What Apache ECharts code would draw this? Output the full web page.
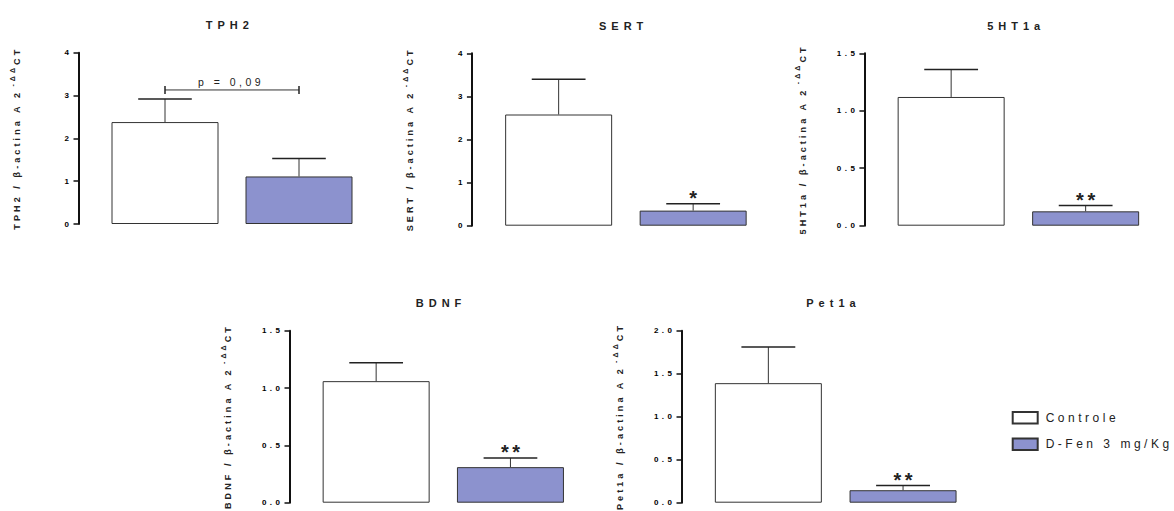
<!DOCTYPE html>
<html>
<head>
<meta charset="utf-8">
<script src="https://cdn.jsdelivr.net/npm/echarts@6/dist/echarts.min.js"></script>
<style>
html, body { margin: 0; padding: 0; background: #fff; }
#chart { width: 1174px; height: 511px; }
/* GraphPad style wide letter spacing */
#chart text { letter-spacing: 3.5px; }
#chart text[style*="11px"] { letter-spacing: 5px; }
#chart text[style*="font-size: 9px"], #chart text[style*="font-size: 7px"] { letter-spacing: 3.1px; }
</style>
</head>
<body>
<div id="chart"></div>
<script>
var genes = ['TPH2', 'SERT', '5HT1a', 'BDNF', 'Pet1a'];
var groups = ['Controle', 'D-Fen 3 mg/Kg'];
var controleMean = [2.38, 2.58, 1.12, 1.06, 1.39];
var controleSem = [0.54, 0.82, 0.24, 0.16, 0.42];
var dfenMean = [1.11, 0.35, 0.125, 0.31, 0.145];
var dfenSem = [0.42, 0.16, 0.05, 0.08, 0.055];
var stars = ['', '*', '**', '**', '**'];
var yMax = [4, 4, 1.5, 1.5, 2];
var yStep = [1, 1, 0.5, 0.5, 0.5];
// TPH2 bracket
var pText = 'p = 0,09';
var pLevel = 3.13;

var SP = 3.1; // same as the css letter-spacing of the axis names
var SUP = '-ΔΔ', CT = 'CT';

// plot boxes, the y axis sits 19.5px left of each
var boxes = [
  {left: 98, top: 52.7, width: 268, height: 171.3},
  {left: 491.4, top: 53.3, width: 269, height: 172.4},
  {left: 883.9, top: 53.3, width: 269, height: 172.4},
  {left: 309, top: 330.7, width: 268.6, height: 172},
  {left: 701, top: 330.7, width: 269.4, height: 172}
];

var chart = echarts.init(document.getElementById('chart'), null, {renderer: 'svg'});

// rich tokens are drawn centred, so the letter spacing is split over both sides
function pad(str, after, bottom) {
  var e = str.length * SP / 2;
  return [0, e + (after || 0), bottom || 0, e];
}

var grids = [], xAxes = [], yAxes = [], titles = [], series = [];

genes.forEach(function (g, i) {
  var b = boxes[i];
  var part1 = g + ' / β-actina A 2';
  grids.push({left: b.left, top: b.top, width: b.width, height: b.height, outerBoundsMode: 'none', containLabel: false});
  titles.push({
    text: g,
    left: b.left - 19.5 + (b.width + 19.5) / 2 + 2.5,
    top: b.top - 38,
    textAlign: 'center',
    textStyle: {fontSize: 11, fontWeight: 'bold', color: '#222'}
  });
  xAxes.push({gridIndex: i, type: 'category', data: groups, show: false});
  yAxes.push({
    gridIndex: i, type: 'value', min: 0, max: yMax[i], interval: yStep[i], offset: 19.5,
    axisLine: {show: true, lineStyle: {color: '#111', width: 2}},
    axisTick: {show: true, length: 5, lineStyle: {color: '#111', width: 1.5}},
    axisLabel: {
      fontSize: 8, fontWeight: 'bold', color: '#000', margin: 6,
      formatter: function (v) { return v.toFixed(yStep[i] < 1 ? 1 : 0); }
    },
    splitLine: {show: false},
    nameLocation: 'middle', nameRotate: 90, nameGap: 57,
    name: '{a|' + part1 + '}{s|' + SUP + '}{c|' + CT + '}',
    nameTextStyle: {
      rich: {
        a: {fontSize: 9, fontWeight: 'bold', color: '#222', lineHeight: 14, verticalAlign: 'bottom', padding: pad(part1, 3)},
        s: {fontSize: 7, fontWeight: 'bold', color: '#222', lineHeight: 14, verticalAlign: 'bottom', padding: pad(SUP, 0, 6)},
        c: {fontSize: 9, fontWeight: 'bold', color: '#222', lineHeight: 14, verticalAlign: 'bottom', padding: pad(CT)}
      }
    }
  });

  series.push({
    name: groups[0], type: 'bar', xAxisIndex: i, yAxisIndex: i,
    data: [controleMean[i], '-'], barWidth: 107, barGap: '-100%',
    itemStyle: {color: '#ffffff', borderColor: '#333', borderWidth: 1},
    silent: true
  });
  series.push({
    name: groups[1], type: 'bar', xAxisIndex: i, yAxisIndex: i,
    data: ['-', dfenMean[i]], barWidth: 107, barGap: '-100%',
    itemStyle: {color: '#8c92ce', borderColor: '#333', borderWidth: 1},
    silent: true
  });
  series.push({
    type: 'custom', xAxisIndex: i, yAxisIndex: i, silent: true, clip: false,
    data: [[0, controleMean[i], controleSem[i]], [1, dfenMean[i], dfenSem[i]]],
    encode: {x: 0, y: 1},
    z: 3,
    renderItem: function (params, api) {
      var x = api.value(0), m = api.value(1), e = api.value(2);
      var base = api.coord([x, m]);
      var top = api.coord([x, m + e]);
      var half = api.size([1, 0])[0] * 0.2;
      var kids = [
        {type: 'line', shape: {x1: base[0], y1: base[1], x2: top[0], y2: top[1]}, style: {stroke: '#333', lineWidth: 1}},
        {type: 'line', shape: {x1: top[0] - half, y1: top[1], x2: top[0] + half, y2: top[1]}, style: {stroke: '#222', lineWidth: 1.5}}
      ];
      if (x === 1 && stars[i]) {
        kids.push({type: 'text', x: top[0] + 1.75, y: top[1] - 6,
          style: {text: stars[i], fontSize: 20, fontWeight: 'bold', fill: '#222', align: 'center', verticalAlign: 'middle'}});
      }
      return {type: 'group', children: kids};
    }
  });
});

// p value bracket on TPH2
series.push({
  type: 'custom', xAxisIndex: 0, yAxisIndex: 0, silent: true, clip: false,
  data: [[0, 1, pLevel]],
  renderItem: function (params, api) {
    var a = api.coord([api.value(0), api.value(2)]);
    var b = api.coord([api.value(1), api.value(2)]);
    return {type: 'group', children: [
      {type: 'line', shape: {x1: a[0], y1: a[1], x2: b[0], y2: b[1]}, style: {stroke: '#333', lineWidth: 1}},
      {type: 'line', shape: {x1: a[0], y1: a[1] - 4, x2: a[0], y2: a[1] + 4}, style: {stroke: '#222', lineWidth: 1.5}},
      {type: 'line', shape: {x1: b[0], y1: b[1] - 4, x2: b[0], y2: b[1] + 4}, style: {stroke: '#222', lineWidth: 1.5}},
      {type: 'text', x: (a[0] + b[0]) / 2 - 1, y: a[1] - 8,
        style: {text: pText, fontSize: 10.5, fill: '#222', align: 'center', verticalAlign: 'middle'}}
    ]};
  }
});

chart.setOption({
  animation: false,
  textStyle: {fontFamily: 'Liberation Sans, Arial, sans-serif'},
  title: titles,
  grid: grids,
  xAxis: xAxes,
  yAxis: yAxes,
  legend: {
    data: groups, orient: 'vertical', left: 1006.7, top: 406,
    icon: 'rect', itemWidth: 25, itemHeight: 11.5, itemGap: 13,
    textStyle: {fontSize: 12, color: '#222', padding: [0, 0, 0, 3]},
    selectedMode: false
  },
  series: series
});
</script>
</body>
</html>
